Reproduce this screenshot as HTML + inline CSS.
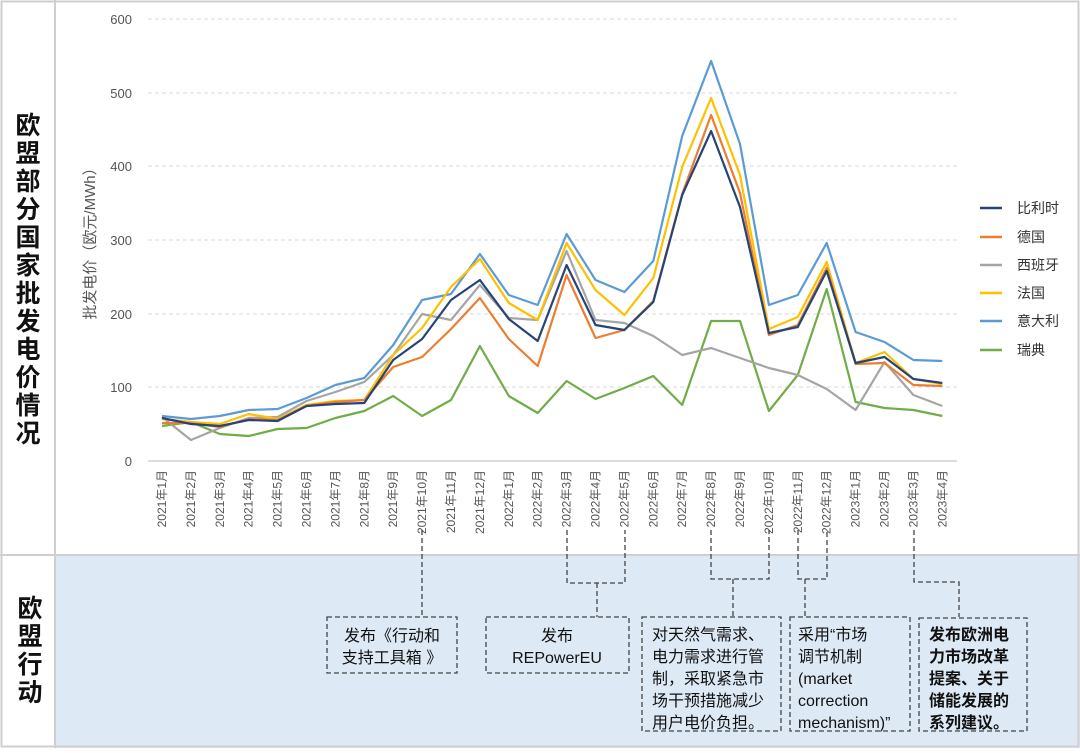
<!DOCTYPE html>
<html><head><meta charset="utf-8"><style>
body{margin:0;width:1080px;height:748px;overflow:hidden;background:#fff;font-family:"Liberation Sans","Noto Sans CJK SC",sans-serif;}
svg text{font-family:"Liberation Sans","Noto Sans CJK SC",sans-serif;}
</style></head><body>
<svg width="1080" height="748" viewBox="0 0 1080 748" xmlns="http://www.w3.org/2000/svg">
<rect x="55" y="555" width="1025" height="193" fill="#dde9f5"/>
<rect x="1.5" y="1.5" width="1077" height="745" fill="none" stroke="#cfcfcf" stroke-width="2"/>
<line x1="55" y1="0" x2="55" y2="748" stroke="#cfcfcf" stroke-width="2"/>
<line x1="0" y1="555" x2="1080" y2="555" stroke="#cfcfcf" stroke-width="2"/>
<g font-size="25" font-weight="bold" fill="#111" text-anchor="middle">
<text x="28" y="134">欧</text><text x="28" y="162">盟</text><text x="28" y="190">部</text><text x="28" y="218">分</text><text x="28" y="246">国</text><text x="28" y="274">家</text><text x="28" y="302">批</text><text x="28" y="330">发</text><text x="28" y="358">电</text><text x="28" y="386">价</text><text x="28" y="414">情</text><text x="28" y="442">况</text>
<text x="30" y="617">欧</text><text x="30" y="645">盟</text><text x="30" y="673">行</text><text x="30" y="701">动</text>
</g>
<g stroke="#d9d9d9" stroke-dasharray="4,3" stroke-width="1">
<line x1="148" y1="19" x2="957" y2="19"/><line x1="148" y1="93" x2="957" y2="93"/><line x1="148" y1="166" x2="957" y2="166"/><line x1="148" y1="240" x2="957" y2="240"/><line x1="148" y1="314" x2="957" y2="314"/><line x1="148" y1="387" x2="957" y2="387"/>
</g>
<line x1="148" y1="461" x2="957" y2="461" stroke="#d0d0d0" stroke-width="1.5"/>
<g font-size="13" fill="#555" text-anchor="end">
<text x="132" y="24">600</text><text x="132" y="98">500</text><text x="132" y="171">400</text><text x="132" y="245">300</text><text x="132" y="319">200</text><text x="132" y="392">100</text><text x="132" y="466">0</text>
</g>
<text transform="translate(95,240) rotate(-90)" font-size="15" fill="#555" text-anchor="middle">批发电价（欧元/MWh）</text>
<g font-size="12" fill="#555" text-anchor="end" id="xl"></g>
<g fill="none" stroke-width="2.2" stroke-linejoin="round">
<polyline id="s5" stroke="#70ad47"/>
<polyline id="s2" stroke="#a5a5a5"/>
<polyline id="s4" stroke="#5b9bd5"/>
<polyline id="s3" stroke="#ffc000"/>
<polyline id="s1" stroke="#ed7d31"/>
<polyline id="s0" stroke="#264478"/>
</g>
<g font-size="14" fill="#333">
<line x1="980" y1="208" x2="1002" y2="208" stroke="#264478" stroke-width="2.5"/><text x="1017" y="213">比利时</text>
<line x1="980" y1="237" x2="1002" y2="237" stroke="#ed7d31" stroke-width="2.5"/><text x="1017" y="242">德国</text>
<line x1="980" y1="265" x2="1002" y2="265" stroke="#a5a5a5" stroke-width="2.5"/><text x="1017" y="270">西班牙</text>
<line x1="980" y1="293" x2="1002" y2="293" stroke="#ffc000" stroke-width="2.5"/><text x="1017" y="298">法国</text>
<line x1="980" y1="321" x2="1002" y2="321" stroke="#5b9bd5" stroke-width="2.5"/><text x="1017" y="326">意大利</text>
<line x1="980" y1="350" x2="1002" y2="350" stroke="#70ad47" stroke-width="2.5"/><text x="1017" y="355">瑞典</text>
</g>
<g fill="none" stroke="#444" stroke-width="1.3" stroke-dasharray="5,3">
<polyline points="422,530 422,617"/>
<polyline points="567,530 567,583 625,583 625,530"/><polyline points="597,583 597,617"/>
<polyline points="711,530 711,579 769,579 769,530"/><polyline points="733,579 733,617"/>
<polyline points="798,530 798,579 827,579 827,530"/><polyline points="805,579 805,617"/>
<polyline points="914,530 914,582 959,582 959,617"/>
<rect x="327" y="617" width="130" height="56"/>
<rect x="486" y="617" width="143" height="56"/>
<rect x="642" y="617" width="139" height="114"/>
<rect x="790" y="617" width="120" height="114"/>
<rect x="919" y="618" width="108" height="113"/>
</g>
<g font-size="16" fill="#111">
<text x="392" y="641" text-anchor="middle">发布《行动和</text><text x="392" y="663" text-anchor="middle">支持工具箱 》</text>
<text x="557" y="641" text-anchor="middle">发布</text><text x="557" y="663" text-anchor="middle">REPowerEU</text>
<text x="652" y="640">对天然气需求、</text><text x="652" y="662">电力需求进行管</text><text x="652" y="684">制，采取紧急市</text><text x="652" y="706">场干预措施减少</text><text x="652" y="728">用户电价负担。</text>
<text x="798" y="640">采用“市场</text><text x="798" y="662">调节机制</text><text x="798" y="684">(market</text><text x="798" y="706">correction</text><text x="798" y="728">mechanism)”</text>
<g font-weight="bold"><text x="929" y="640">发布欧洲电</text><text x="929" y="662">力市场改革</text><text x="929" y="684">提案、关于</text><text x="929" y="706">储能发展的</text><text x="929" y="728">系列建议。</text></g>
</g>
</svg>
<script>
var X=[];for(var i=0;i<28;i++)X.push(162+i*28.9);
var D=[
[418,424,426,420,421,406,404,403,360,339,300,280,319,341,265,325,330,302,195,131,207,333,327,271,363,357,379,383],
[423,423,427,419,420,406,402,400,367,357,329,298,339,366,275,338,330,301,194,115,193,335,325,268,364,363,385,386],
[417,440,428,418,417,401,392,382,355,314,320,285,318,320,251,320,323,336,355,348,358,368,375,389,410,362,395,406],
[419,422,424,414,419,405,401,400,355,328,287,259,303,320,243,290,315,278,167,98,175,329,317,262,363,352,379,384],
[416,419,416,410,409,398,385,378,345,300,294,254,295,305,234,280,292,261,136,61,144,305,295,243,332,342,360,361],
[426,422,434,436,429,428,418,411,396,416,400,346,396,413,381,399,388,376,405,321,321,411,375,289,402,408,410,416]];
D.forEach(function(d,k){document.getElementById('s'+k).setAttribute('points',d.map(function(y,i){return X[i].toFixed(1)+','+y}).join(' '));});
var g=document.getElementById('xl'),ns='http://www.w3.org/2000/svg';
for(var i=0;i<28;i++){var y=2021+Math.floor(i/12),m=i%12+1;var t=document.createElementNS(ns,'text');t.setAttribute('transform','translate('+(X[i]+4)+',470) rotate(-90)');t.textContent=y+'年'+m+'月';g.appendChild(t);}
</script>
</body></html>
